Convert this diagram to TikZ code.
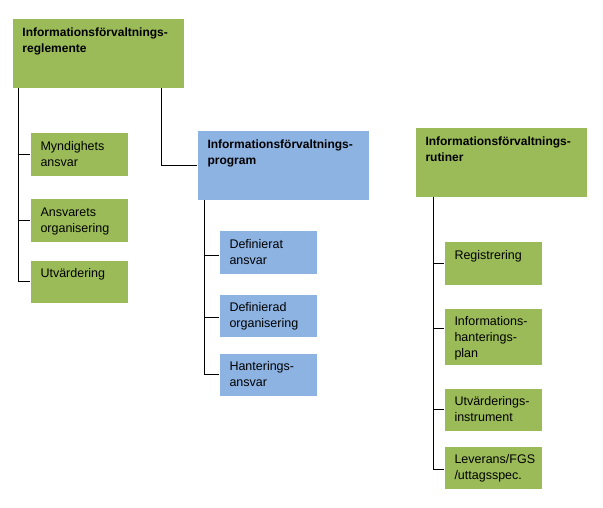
\documentclass[tikz,border=0pt]{standalone}
\usepackage{fontspec}
\setmainfont{Liberation Sans}
\usepackage{tikz}

\definecolor{boxgreen}{RGB}{155,187,89}
\definecolor{boxblue}{RGB}{141,179,226}

\begin{document}
\begin{tikzpicture}[x=1pt, y=-1pt, line width=1pt,
  box/.style={anchor=north west, inner xsep=10pt, inner ysep=0pt,
    align=left, text height=17pt, font=\fontsize{12.5}{16}\selectfont},
  head/.style={box, text width=151pt, text depth=51.5pt,
    font=\fontsize{12}{16}\selectfont\bfseries},
  item/.style={box, text width=77.5pt, text depth=25.5pt},
  tallitem/.style={box, text width=77.5pt, text depth=39pt},
  green/.style={fill=boxgreen},
  blue/.style={fill=boxblue}]
  \useasboundingbox (0,0) rectangle (603,508);

  \node [head, green] (regl) at (12,19) {Informationsförvaltnings-\\reglemente};
  \node [item, green] (mynd) at (30,133) {Myndighets\\ansvar};
  \node [item, green] (orga) at (30,199) {Ansvarets\\organisering};
  \node [item, green] (utv) at (30,260) {Utvärdering};

  \node [head, blue] (prog) at (197,131) {Informationsförvaltnings-\\program};
  \node [item, blue] (defans) at (219,231) {Definierat\\ansvar};
  \node [item, blue] (deforg) at (219,294) {Definierad\\organisering};
  \node [item, blue] (hant) at (219,353) {Hanterings-\\ansvar};

  \node [head, green] (rutin) at (415,128) {Informationsförvaltnings-\\rutiner};
  \node [item, green] (reg) at (444,242) {Registrering};
  \node [tallitem, green] (plan) at (444,308) {Informations-\\hanterings-\\plan};
  \node [item, green] (instr) at (444,388) {Utvärderings-\\instrument};
  \node [item, green] (lev) at (444,446) {Leverans/FGS\\/uttagsspec.};

  \draw ([xshift=6pt]regl.south west) |- (mynd.west);
  \draw ([xshift=6pt]regl.south west) |- (orga.west);
  \draw ([xshift=6pt]regl.south west) |- (utv.west);
  \draw ([xshift=-23pt]regl.south east) |- (prog.west);

  \draw ([xshift=7.5pt]prog.south west) |- ([yshift=-3pt]defans.west);
  \draw ([xshift=7.5pt]prog.south west) |- ([yshift=-1.5pt]deforg.west);
  \draw ([xshift=7.5pt]prog.south west) |- (hant.west);

  \draw ([xshift=18pt]rutin.south west) |- (reg.west);
  \draw ([xshift=18pt]rutin.south west) |- ([yshift=-20pt]plan.north west);
  \draw ([xshift=18pt]rutin.south west) |- (instr.west);
  \draw ([xshift=18pt]rutin.south west) |- ([yshift=-2pt]lev.west);
\end{tikzpicture}
\end{document}
